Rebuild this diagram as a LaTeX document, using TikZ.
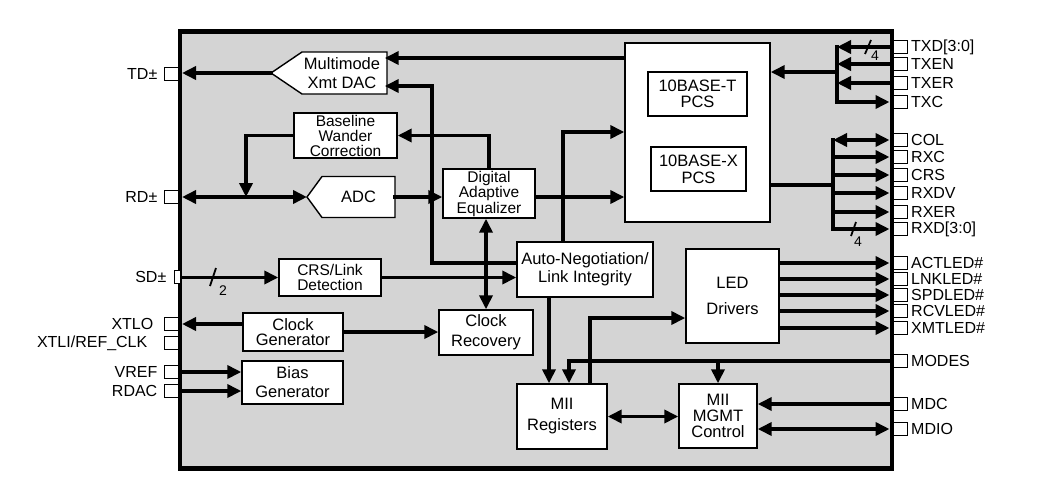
\documentclass[tikz,border=0pt]{standalone}
\usepackage{fontspec}
\setmainfont{Liberation Sans}
\usetikzlibrary{arrows.meta,calc}
\definecolor{bgray}{RGB}{212,212,212}
\begin{document}
\begin{tikzpicture}[x=1pt,y=-1pt,
  font=\fontsize{16}{18}\selectfont,
  lead/.style={font=\fontsize{16.5}{#1}\selectfont},
  tight/.style={font=\fontsize{15.5}{#1}\selectfont},
  blk/.style={draw,fill=white,line width=1.4pt,inner sep=0pt,align=center},
  pin/.style={draw,fill=white,line width=1pt,minimum width=14pt,minimum height=13pt,inner sep=0pt},
  wire/.style={line width=3.8pt,line cap=rect,line join=miter},
  arr/.style={wire,-{Triangle[length=14pt,width=13pt]}},
  arrb/.style={wire,{Triangle[length=14pt,width=13pt]}-{Triangle[length=14pt,width=13pt]}},
  rlab/.style={anchor=west,inner sep=0pt},
  llab/.style={anchor=east,inner sep=0pt},
  slashmark/.style={line width=1.8pt},
  numlab/.style={inner sep=0pt,font=\fontsize{14}{14}\selectfont}
]
\useasboundingbox (0,0) rectangle (1058,501);
% chip body
\node[draw,line width=4.5pt,fill=bgray,minimum width=712pt,minimum height=437pt,inner sep=0pt] (chip) at (536,250) {};

% pentagon blocks
\draw[line width=1.4pt,fill=white] (387,52) -- (387,94) -- (302,94) -- (271,73) -- (302,52) -- cycle;
\node[lead=19,inner sep=0pt,align=center,minimum width=85pt,minimum height=42pt] (dac) at (342,73) {Multimode\\Xmt DAC};
\coordinate (dactip) at (271,73);
\draw[line width=1.4pt,fill=white] (395,176.5) -- (395,217.5) -- (322,217.5) -- (307,197) -- (322,176.5) -- cycle;
\node[lead=18,inner sep=0pt,minimum width=73pt,minimum height=41pt] (adc) at (358.5,197) {ADC};
\coordinate (adctip) at (307,197);

% blocks
\node[blk,tight=15,minimum width=103pt,minimum height=45pt] (bwc) at (345.5,135.5) {Baseline\\Wander\\Correction};
\node[blk,tight=15.5,minimum width=92pt,minimum height=49pt] (dae) at (489,193.5) {Digital\\Adaptive\\Equalizer};
\node[blk,minimum width=145pt,minimum height=179pt] (pcs) at (697.5,132.5) {};
\node[blk,lead=16,minimum width=99pt,minimum height=44pt] (pcst) at (697.5,94) {10BASE-T\\PCS};
\node[blk,lead=17,minimum width=95pt,minimum height=44pt] (pcsx) at (698.5,169) {10BASE-X\\PCS};
\node[blk,tight=15,minimum width=102pt,minimum height=37pt] (crs) at (330,277.5) {CRS/Link\\Detection};
\node[blk,lead=18,minimum width=136pt,minimum height=55pt] (an) at (585,269.5) {Auto-Negotiation/\\Link Integrity};
\node[blk,lead=15.5,minimum width=100pt,minimum height=38pt] (cg) at (293,332) {Clock\\Generator};
\node[blk,lead=20,minimum width=94pt,minimum height=45pt] (cr) at (486,332.5) {Clock\\Recovery};
\node[blk,lead=19,minimum width=101pt,minimum height=43pt] (bias) at (292.5,382.5) {Bias\\Generator};
\node[blk,lead=26,minimum width=93pt,minimum height=94pt] (led) at (732.5,296) {LED\\Drivers};
\node[blk,lead=21,minimum width=90pt,minimum height=65pt] (miir) at (562,416.5) {MII\\Registers};
\node[blk,lead=16,minimum width=78pt,minimum height=64pt] (mgmt) at (718,416) {MII\\MGMT\\Control};

% pins (positions)
\coordinate (tdp) at (171,74);
\coordinate (rdp) at (171,197);
\coordinate (sdp) at (177,277);
\coordinate (xtlo) at (171,324);
\coordinate (xtli) at (171,343);
\coordinate (vref) at (171,372);
\coordinate (rdac) at (171,391);

% helper coordinates
\coordinate (c58) at (500,58);
\coordinate (j1) at (432,263);
\coordinate (j2) at (432,86);
\coordinate (j4) at (246,197);
\coordinate (j8) at (563,132);
\coordinate (tb) at (837,47);
\coordinate (tb2) at (837,102);
\coordinate (tm) at (837,72);
\coordinate (rt) at (833,140);
\coordinate (rb) at (833,229);
\coordinate (rm) at (833,185);
\coordinate (j18) at (549,300);
\coordinate (j19) at (569,361);
\coordinate (j20) at (590,318);

\foreach \n/\y in {txd/47,txen/64,txer/83,txc/102,col/140,rxc/157,crsp/175,rxdv/193,rxer/212,rxd/229,act/263,lnk/279,spd/295,rcv/311,xmt/328,modes/361,mdc/404,mdio/429}
  \coordinate (\n) at (900.5,\y);

% connectors
\draw[arr] (pcs.west |- c58) -- (dac.east |- c58);
\draw[arr] (an.west |- j1) -- (j1) -- (j2) -- (dac.east |- j2);
\draw[arr] (dae.north) -- (dae.north |- bwc.east) -- (bwc.east);
\draw[arr] (bwc.west) -| (j4);
\draw[arrb] ([xshift=11pt]rdp) -- (adctip);
\draw[arr] (dactip) -- ([xshift=11pt]dactip -| tdp);
\draw[arr] (adc.east) -- (adc.east -| dae.west);
\draw[arr] (dae.east |- adc.east) -- (pcs.west |- adc.east);
\draw[arr] (an.north -| j8) -- (j8) -- (pcs.west |- j8);
\draw[arrb] (dae.south -| cr.north) -- (cr.north);
\draw[arr] (sdp |- crs.west) -- (crs.west);
\draw[slashmark] (210,286) -- (216,268);
\node[numlab] (n2) at (223,291) {2};
\draw[arr] (crs.east) -- (crs.east -| an.west);
\draw[arr] (cg.west |- xtlo) -- ([xshift=11pt]xtlo);
\draw[arr] (cg.east) -- (cg.east -| cr.west);
\draw[arr] (vref) -- (vref -| bias.west);
\draw[arr] (rdac) -- (rdac -| bias.west);
% TX bus
\draw[wire] (tb) -- (tb2);
\draw[arr] (txd) -- (txd -| tb);
\draw[arr] (txen) -- (txen -| tb);
\draw[arr] (txer) -- (txer -| tb);
\draw[arr] (tb2) -- ([xshift=-11pt]txc);
\draw[arr] (tm) -- (pcs.east |- tm);
\draw[slashmark] (865,54) -- (871,40);
\node[numlab] (n4a) at (875,56) {4};
% RX bus
\draw[wire] (rt) -- (rb);
\draw[wire] (pcs.east |- rm) -- (rm);
\draw[arrb] (rt) -- ([xshift=-11pt]col);
\foreach \p in {rxc,crsp,rxdv,rxer,rxd}
  \draw[arr] (rt |- \p) -- ([xshift=-11pt]\p);
\draw[slashmark] (851,236) -- (856,222);
\node[numlab] (n4b) at (858,242) {4};
% LEDs
\foreach \p in {act,lnk,spd,rcv,xmt}
  \draw[arr] (led.east |- \p) -- ([xshift=-11pt]\p);
% management
\draw[arr] (modes) -- (j19) -- (j19 |- miir.north);
\draw[arr] (mgmt.north |- j19) -- (mgmt.north);
\draw[arr] (an.south -| j18) -- (miir.north -| j18);
\draw[arr] (miir.north -| j20) -- (j20) -- (led.west |- j20);
\draw[arrb] (miir.east) -- (miir.east -| mgmt.west);
\draw[arr] (mdc) -- (mdc -| mgmt.east);
\draw[arrb] ([xshift=-11pt]mdio) -- (mdio -| mgmt.east);

% pin boxes and labels (drawn last)
\node[pin] (ptd) at (tdp) {};
\node[llab] (ltd) at ([xshift=-6pt]ptd.west) {TD±};
\node[pin] (prd) at (rdp) {};
\node[llab] (lrd) at ([xshift=-6pt]prd.west) {RD±};
\node[pin,minimum width=6pt] (psd) at (sdp) {};
\node[llab] (lsd) at ([xshift=-7pt]psd.west) {SD±};
\node[pin] (pxtlo) at (xtlo) {};
\node[llab] (lxtlo) at ([xshift=-10pt]pxtlo.west) {XTLO};
\node[pin] (pxtli) at (xtli) {};
\node[llab] (lxtli) at ([xshift=-16pt]pxtli.west) {XTLI/REF\_CLK};
\node[pin] (pvref) at (vref) {};
\node[llab] (lvref) at ([xshift=-6pt]pvref.west) {VREF};
\node[pin] (prdac) at (rdac) {};
\node[llab] (lrdac) at ([xshift=-6pt]prdac.west) {RDAC};
\foreach \n/\t in {txd/TXD[3:0],txen/TXEN,txer/TXER,txc/TXC,col/COL,rxc/RXC,crsp/CRS,rxdv/RXDV,rxer/RXER,rxd/RXD[3:0],act/ACTLED\#,lnk/LNKLED\#,spd/SPDLED\#,rcv/RCVLED\#,xmt/XMTLED\#,modes/MODES,mdc/MDC,mdio/MDIO}
{
  \node[pin] (p\n) at (\n) {};
  \node[rlab] (l\n) at ([xshift=3pt]p\n.east) {\t};
}
\end{tikzpicture}
\end{document}
